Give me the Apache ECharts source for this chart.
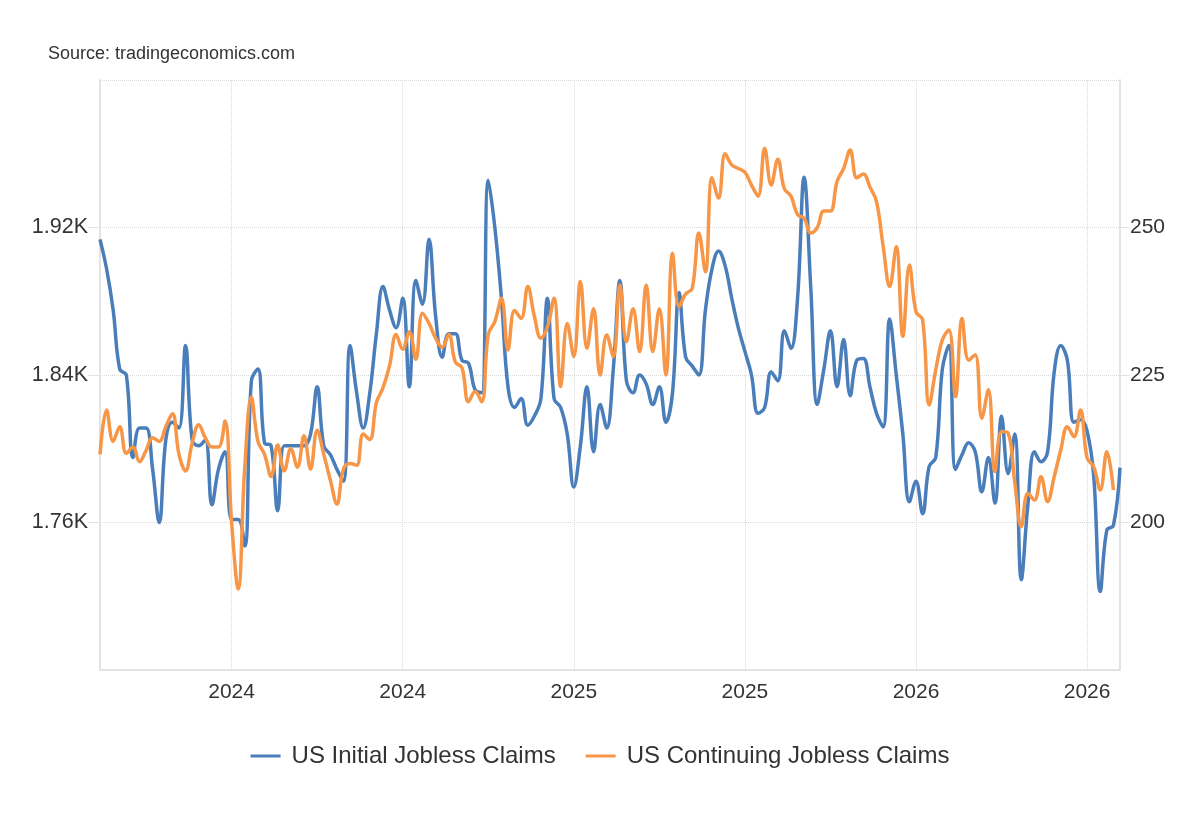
<!DOCTYPE html>
<html>
<head>
<meta charset="utf-8">
<script src="https://cdn.jsdelivr.net/npm/echarts@6/dist/echarts.min.js"></script>
<style>
html,body{margin:0;padding:0;background:#fff;}
#chart{width:1200px;height:820px;}
</style>
</head>
<body>
<div id="chart"></div>
<script>
// Weekly observations (index = week). Initial claims in thousands (right axis),
// continuing claims in thousands (left axis, shown as "K" of thousands).
const initialClaims = [
  248, 243, 236, 226, 225, 211, 216, 216, 209, 200,
  214, 217, 216, 230, 214, 213, 214, 203, 209, 212,
  200.5, 200.5, 196, 224, 226, 213.5, 213, 202, 213, 213,
  213, 213, 215, 223, 213, 211.5, 209, 207, 230, 222,
  216, 222, 232, 240, 236, 233, 238, 223, 241, 237,
  248, 235, 228, 232, 232, 227.5, 227, 222.5, 222, 258,
  250, 238, 223, 219.5, 221, 216.5, 218, 221, 238, 221,
  219.5, 215, 206, 213, 223, 212, 220, 216, 226, 241,
  224, 222, 225, 223.5, 220, 223, 217, 222, 239, 228,
  226.5, 225, 236, 243, 246, 243.5, 238, 233, 229, 225,
  218.5, 219.5, 225.5, 224, 232.5, 229.5, 238, 258.5, 240, 220,
  226, 232.5, 223, 231, 221.5, 227.5, 227.8, 223, 218.5, 216.2,
  234.5, 225, 215, 203.5, 207, 201.5, 209.5, 211, 226, 230,
  209, 211.5, 213.5, 212, 205.2, 211, 203.3, 218, 208.3, 215,
  190.3, 203, 212, 210.3, 212, 225.5, 230, 227.5, 217, 217.4,
  215.5, 208, 188.3, 198.7, 199.5, 209.3
];
const continuingClaims = [
  1797, 1821, 1804, 1812, 1797.5, 1801, 1793, 1799, 1806, 1804,
  1812, 1819, 1797, 1788, 1803, 1813, 1806, 1801, 1801, 1815,
  1760, 1724, 1790, 1828, 1804, 1797, 1785, 1802, 1788, 1800,
  1790, 1807, 1789, 1810, 1797, 1783, 1770, 1789, 1792, 1791,
  1808, 1805, 1825, 1833, 1845, 1862, 1854, 1863.5, 1848.5, 1873.5,
  1868, 1860, 1855, 1862, 1847, 1844, 1825.5, 1831, 1825.5, 1862,
  1869, 1881.6, 1853.6, 1875, 1870.7, 1888, 1872, 1860, 1866, 1881.6,
  1833.7, 1868, 1850, 1890.7, 1854.5, 1876, 1840, 1861.7, 1850, 1888.8,
  1858, 1876, 1852.7, 1888.8, 1852.7, 1876, 1840, 1906, 1877, 1884,
  1887, 1917, 1896, 1947, 1936, 1960, 1954, 1952, 1950, 1943,
  1937, 1963, 1943, 1957, 1941, 1937, 1927, 1925, 1917, 1920,
  1929, 1929, 1945, 1952, 1962, 1947, 1949, 1942, 1934, 1910,
  1888, 1909.6, 1861, 1899.7, 1874.3, 1870, 1823.7, 1842.7, 1859, 1864.4,
  1828.2, 1870.7, 1848, 1851, 1816.5, 1832, 1787.6, 1809.3, 1808.5, 1782,
  1757.7, 1775.8, 1772.2, 1784.8, 1771.3, 1784.8, 1799.3, 1812, 1806.5, 1821,
  1795, 1790.3, 1777.6, 1798.4, 1777.6, null
];
const tickIndex = [20, 46, 72, 98, 124, 150];
const tickLabels = ['2024', '2024', '2025', '2025', '2026', '2026'];
const seriesNames = ['US Initial Jobless Claims', 'US Continuing Jobless Claims'];

// weekly category keys
const weeks = [];
const start = Date.UTC(2023, 7, 18);
for (let i = 0; i < initialClaims.length; i++) {
  weeks.push(new Date(start + i * 7 * 86400000).toISOString().slice(0, 10));
}

const FONT = '"Liberation Sans", Arial, Helvetica, sans-serif';
const AXIS_GRAY = '#e3e3e3';
const GRID_GRAY = '#d9d9d9';
const TEXT = '#333333';

const chart = echarts.init(document.getElementById('chart'), null, {renderer: 'canvas'});
chart.setOption({
  animation: false,
  backgroundColor: '#ffffff',
  textStyle: {fontFamily: FONT},
  graphic: [{
    type: 'text', left: 48, top: 45,
    style: {text: 'Source: tradingeconomics.com', fill: TEXT, font: '18px ' + FONT}
  }],
  legend: {
    data: seriesNames,
    left: 'center', top: 739,
    icon: 'rect', itemWidth: 30, itemHeight: 3, itemGap: 30,
    textStyle: {fontSize: 24, color: TEXT, fontFamily: FONT, padding: [0, 0, 0, 6]}
  },
  grid: {left: 100, right: 80, top: 80, bottom: 150, containLabel: false},
  xAxis: {
    type: 'category',
    data: weeks,
    boundaryGap: false,
    axisLine: {show: true, lineStyle: {color: AXIS_GRAY, width: 2}},
    axisTick: {show: false},
    axisLabel: {
      interval: (i) => tickIndex.indexOf(i) >= 0,
      formatter: (v, i) => tickLabels[tickIndex.indexOf(i)] || '',
      fontSize: 21, color: TEXT, margin: 12, fontFamily: FONT
    },
    splitLine: {
      show: true,
      interval: (i) => tickIndex.indexOf(i) >= 0,
      lineStyle: {type: 'dotted', color: GRID_GRAY, width: 1}
    }
  },
  yAxis: [{
    type: 'value', position: 'left',
    min: 1680, max: 2000, interval: 80,
    axisLine: {show: true, lineStyle: {color: AXIS_GRAY, width: 2}},
    axisTick: {show: true, length: 12, lineStyle: {color: AXIS_GRAY, width: 1}},
    axisLabel: {
      showMinLabel: false, showMaxLabel: false,
      formatter: (v) => (v / 1000).toFixed(2) + 'K',
      fontSize: 21.5, color: TEXT, margin: 12, fontFamily: FONT
    },
    splitLine: {show: true, lineStyle: {type: 'dotted', color: GRID_GRAY, width: 1}}
  }, {
    type: 'value', position: 'right',
    min: 175, max: 275, interval: 25,
    axisLine: {show: true, lineStyle: {color: AXIS_GRAY, width: 2}},
    axisTick: {show: true, length: 10, lineStyle: {color: AXIS_GRAY, width: 1}},
    axisLabel: {
      showMinLabel: false, showMaxLabel: false,
      fontSize: 21, color: TEXT, margin: 10, fontFamily: FONT
    },
    splitLine: {show: false}
  }],
  series: [{
    name: seriesNames[0],
    type: 'line',
    yAxisIndex: 1,
    data: initialClaims,
    smooth: 0.4,
    symbol: 'none',
    lineStyle: {color: '#4a7ebb', width: 3.5},
    itemStyle: {color: '#4a7ebb'},
    z: 2
  }, {
    name: seriesNames[1],
    type: 'line',
    yAxisIndex: 0,
    data: continuingClaims,
    smooth: 0.4,
    symbol: 'none',
    lineStyle: {color: '#f79646', width: 3.5},
    itemStyle: {color: '#f79646'},
    z: 3
  }]
});
</script>
</body>
</html>
